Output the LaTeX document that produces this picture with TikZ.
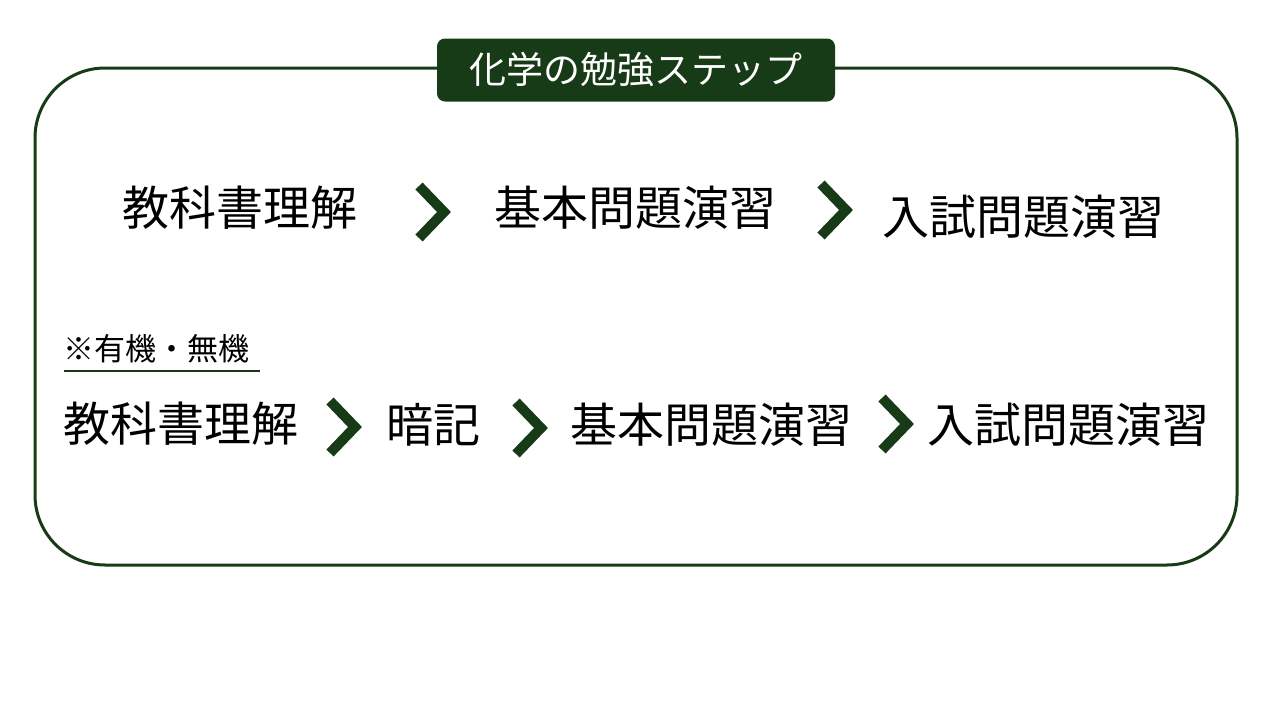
\documentclass[tikz,border=0pt]{standalone}
\usepackage{fontspec}
\setmainfont{Noto Sans CJK JP}
\definecolor{dg}{HTML}{173A17}
\begin{document}
\begin{tikzpicture}[x=1pt,y=-1pt,
  lbl/.style={font=\fontsize{47}{50}\selectfont,inner sep=0pt},
  chev/.style={draw=dg,line width=10pt,miter limit=10}]
\useasboundingbox (0,0) rectangle (1280,720);
\draw[dg,line width=3pt,rounded corners=70pt] (35,68) rectangle (1237,565);
\node[fill=dg,rounded corners=8pt,minimum width=398pt,minimum height=63pt,text=white,font=\fontsize{37}{40}\selectfont] (title) at (636,70) {化学の勉強ステップ};
\node[lbl] (a1) at (240,208) {教科書理解};
\node[lbl] (a2) at (635,208) {基本問題演習};
\node[lbl] (a3) at (1023,217) {入試問題演習};
\draw[chev] (419,186) -- (444,212) -- (419,238);
\draw[chev] (821,184) -- (846,210) -- (821,236);
\node[font=\fontsize{31}{34}\selectfont,inner sep=0pt,anchor=west] (note) at (63,349) {※有機・無機};
\draw[dg,line width=1.5pt] (64,371) -- (260,371);
\node[lbl] (b1) at (181,424) {教科書理解};
\node[lbl] (b2) at (433,425) {暗記};
\node[lbl] (b3) at (711,425) {基本問題演習};
\node[lbl] (b4) at (1068,425) {入試問題演習};
\draw[chev] (330,401) -- (355,427) -- (330,453);
\draw[chev] (516,402) -- (541,428) -- (516,454);
\draw[chev] (882,398) -- (907,424) -- (882,450);
\end{tikzpicture}
\end{document}
